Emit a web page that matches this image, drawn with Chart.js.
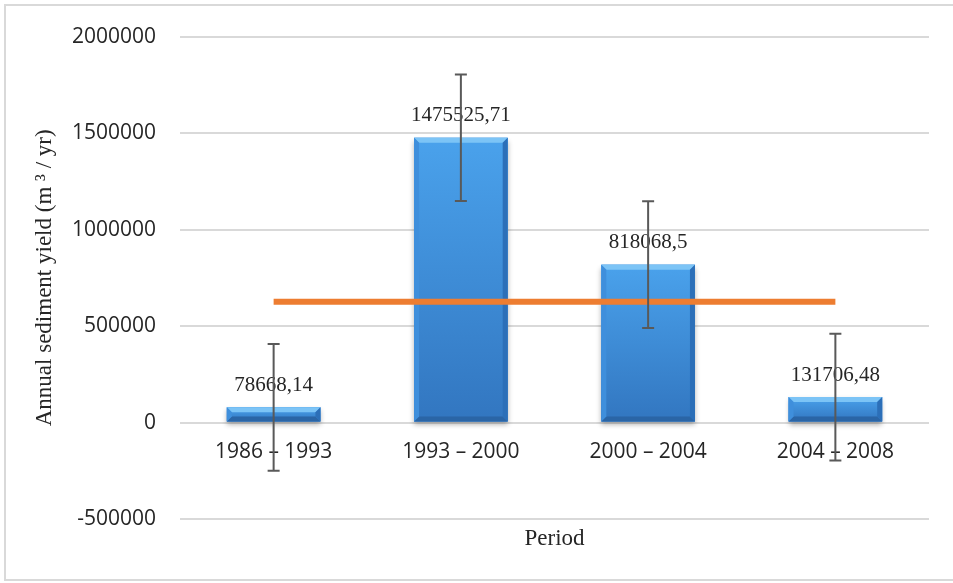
<!DOCTYPE html>
<html>
<head>
<meta charset="utf-8">
<script src="https://cdn.jsdelivr.net/npm/chart.js@4/dist/chart.umd.min.js"></script>
<style>
  html, body { margin: 0; padding: 0; background: #fff; }
  #wrap { width: 953px; height: 583px; }
</style>
</head>
<body>
<div id="wrap"><canvas id="sedimentChart" width="953" height="583"></canvas></div>
<script>
// Annual sediment yield per period
const periods = ['1986 – 1993', '1993 – 2000', '2000 – 2004', '2004 – 2008'];
const sedimentYield = [78668.14, 1475525.71, 818068.5, 131706.48];
const yieldError = [328000, 328000, 328000, 328000];
const meanLine = [626000, 626000, 626000, 626000];
const yTicks = [-500000, 0, 500000, 1000000, 1500000, 2000000];

const sansFont = "'Open Sans', 'Liberation Sans', sans-serif";
const serifFont = "'Liberation Serif', 'DejaVu Serif', serif";

// white background + thin gray frame, and the x title under the plot
const framePlugin = {
    id: 'frame',
    beforeDraw(chart) {
        const ctx = chart.ctx;
        ctx.save();
        ctx.fillStyle = '#fff';
        ctx.fillRect(0, 0, chart.width, chart.height);
        ctx.strokeStyle = '#d9d9d9';
        ctx.lineWidth = 2;
        ctx.strokeRect(5, 5, chart.width + 10, chart.height - 8);
        ctx.restore();
    },
    afterDraw(chart) {
        const ctx = chart.ctx;
        const area = chart.chartArea;
        ctx.save();
        ctx.font = '23px ' + serifFont;
        ctx.fillStyle = '#262626';
        ctx.textAlign = 'center';
        ctx.textBaseline = 'middle';
        ctx.fillText('Period', (area.left + area.right) / 2, area.bottom + 20);
        ctx.restore();
    }
};

// drop shadow under the bars, then gradient face + bevel on top
const bevelPlugin = {
    id: 'bevel',
    beforeDatasetDraw(chart, args) {
        if (args.index !== 0) return;
        const ctx = chart.ctx;
        ctx.save();
        ctx.shadowColor = 'rgba(0,0,0,0.3)';
        ctx.shadowBlur = 5;
        ctx.shadowOffsetY = 3;
    },
    afterDatasetDraw(chart, args) {
        if (args.index !== 0) return;
        const ctx = chart.ctx;
        ctx.restore();
        const meta = chart.getDatasetMeta(0);
        ctx.save();
        meta.data.forEach(bar => {
            const l = bar.x - bar.width / 2, r = bar.x + bar.width / 2;
            const t = Math.min(bar.y, bar.base), b = Math.max(bar.y, bar.base);
            const s = Math.min(5, (b - t) / 2);
            const face = ctx.createLinearGradient(0, t, 0, b);
            face.addColorStop(0, '#4aa2ec');
            face.addColorStop(1, '#3276c0');
            ctx.fillStyle = face;
            ctx.fillRect(l, t, r - l, b - t);
            const poly = (pts, col) => {
                ctx.beginPath();
                ctx.moveTo(pts[0][0], pts[0][1]);
                for (let i = 1; i < pts.length; i++) ctx.lineTo(pts[i][0], pts[i][1]);
                ctx.closePath();
                ctx.fillStyle = col;
                ctx.fill();
            };
            poly([[l, t], [r, t], [r - s, t + s], [l + s, t + s]], '#7cc4f6');
            poly([[l, b], [r, b], [r - s, b - s], [l + s, b - s]], '#2a65a6');
            poly([[l, t], [l + s, t + s], [l + s, b - s], [l, b]], '#3f8fdc');
            poly([[r, t], [r - s, t + s], [r - s, b - s], [r, b]], '#2c6fb8');
        });
        ctx.restore();
    }
};

// value labels (comma decimals) and error bars
const labelsPlugin = {
    id: 'labelsAndErrors',
    afterDatasetsDraw(chart) {
        const ctx = chart.ctx;
        const meta = chart.getDatasetMeta(0);
        const yScale = chart.scales.y;
        ctx.save();
        ctx.font = '21px ' + serifFont;
        ctx.fillStyle = '#262626';
        ctx.textAlign = 'center';
        ctx.textBaseline = 'middle';
        meta.data.forEach((bar, i) => {
            ctx.fillText(String(sedimentYield[i]).replace('.', ','), bar.x, bar.y - 22);
        });
        ctx.strokeStyle = '#595959';
        ctx.lineWidth = 2;
        meta.data.forEach((bar, i) => {
            const top = yScale.getPixelForValue(sedimentYield[i] + yieldError[i]);
            const bot = yScale.getPixelForValue(sedimentYield[i] - yieldError[i]);
            ctx.beginPath();
            ctx.moveTo(bar.x, top); ctx.lineTo(bar.x, bot);
            ctx.moveTo(bar.x - 6, top); ctx.lineTo(bar.x + 6, top);
            ctx.moveTo(bar.x - 6, bot); ctx.lineTo(bar.x + 6, bot);
            ctx.stroke();
        });
        ctx.restore();
    }
};

const ctx = document.getElementById('sedimentChart').getContext('2d');
new Chart(ctx, {
    type: 'bar',
    data: {
        labels: periods,
        datasets: [{
            label: 'Annual sediment yield',
            data: sedimentYield,
            backgroundColor: '#3a8ddf',
            borderWidth: 0,
            categoryPercentage: 1.0,
            barPercentage: 0.5,
            order: 2
        }, {
            type: 'line',
            label: 'Mean',
            data: meanLine,
            borderColor: '#ed7d31',
            borderWidth: 6,
            pointRadius: 0,
            fill: false,
            order: 1
        }]
    },
    options: {
        responsive: false,
        devicePixelRatio: 1,
        animation: false,
        layout: { padding: { top: 34, right: 24, left: 0, bottom: 64 } },
        plugins: {
            legend: { display: false },
            tooltip: { enabled: false }
        },
        scales: {
            x: {
                position: { y: 0 },
                grid: { display: false },
                border: { display: false },
                ticks: {
                    color: '#262626',
                    font: { family: sansFont, size: 21 },
                    padding: 9
                }
            },
            y: {
                min: -500000,
                max: 2000000,
                afterFit(scale) { scale.width = 180; },
                afterBuildTicks(scale) { scale.ticks = yTicks.map(v => ({ value: v })); },
                grid: { color: '#d9d9d9', lineWidth: 2, drawTicks: false },
                border: { display: false },
                ticks: {
                    color: '#262626',
                    font: { family: sansFont, size: 21 },
                    padding: 24,
                    callback: v => String(v)
                },
                title: {
                    display: true,
                    text: 'Annual sediment yield (m ³ / yr)',
                    color: '#262626',
                    font: { family: serifFont, size: 23, lineHeight: 1.2 },
                    padding: { top: 31, bottom: 0 }
                }
            }
        }
    },
    plugins: [framePlugin, bevelPlugin, labelsPlugin]
});
</script>
</body>
</html>
